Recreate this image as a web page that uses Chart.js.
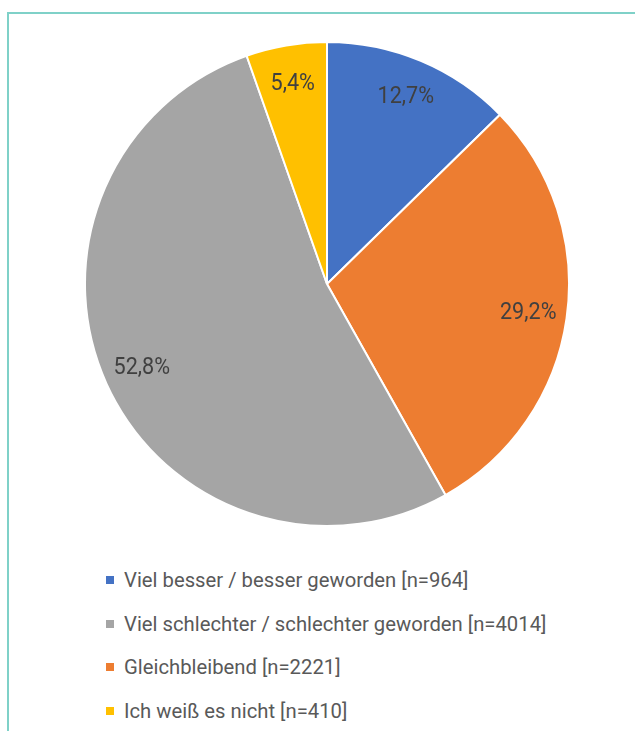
<!DOCTYPE html>
<html>
<head>
<meta charset="utf-8">
<script src="https://cdn.jsdelivr.net/npm/chart.js@4"></script>
<style>
  html, body { margin: 0; padding: 0; background: #fff; }
  body { width: 635px; height: 731px; position: relative; overflow: hidden;
         font-family: Roboto, "DejaVu Sans Condensed", sans-serif; }
  #frame { position: absolute; left: 7px; top: 12px; right: -5px; bottom: -5px;
           border-left: 2px solid #7fd1c8; border-top: 2px solid #7fd1c8; }
  #pieWrap { position: absolute; left: 83.5px; top: 41px; width: 486px; height: 486px; }
  #legend { position: absolute; left: 106px; top: 566px; margin: 0; padding: 0; list-style: none; }
  #legend li { height: 43.5px; line-height: 28px; font-size: 21px; color: #595959; white-space: nowrap; }
  #legend .box { display: inline-block; width: 8px; height: 8px; margin-right: 10px; vertical-align: 3px; }
  #legend .txt { display: inline-block; transform: scaleX(0.965); transform-origin: left center; }
</style>
</head>
<body>
<div id="frame"></div>
<div id="pieWrap"><canvas id="pieChart"></canvas></div>
<ul id="legend"></ul>
<script>
// slices, clockwise from 12 o'clock
const categories = [
  'Viel besser / besser geworden',
  'Gleichbleibend',
  'Viel schlechter / schlechter geworden',
  'Ich weiß es nicht'
];
const counts = [964, 2221, 4014, 410];
const colors = ['#4472c4', '#ed7d31', '#a5a5a5', '#ffc000'];
// legend lists the slices in another order
const legendOrder = [0, 2, 1, 3];

const total = counts.reduce((a, b) => a + b, 0);

function pct(v) {
  return (v / total * 100).toFixed(1).replace('.', ',') + '%';
}

// percent labels inside the slices, near the rim (font is narrowed a bit)
const sliceLabels = {
  id: 'sliceLabels',
  afterDatasetsDraw(chart) {
    const ctx = chart.ctx;
    const meta = chart.getDatasetMeta(0);
    const squeeze = 0.9;
    ctx.save();
    ctx.font = '24px Roboto, "DejaVu Sans Condensed", sans-serif';
    ctx.fillStyle = '#404040';
    ctx.textAlign = 'center';
    ctx.textBaseline = 'middle';
    meta.data.forEach((arc, i) => {
      const p = arc.getProps(['x', 'y', 'startAngle', 'endAngle', 'outerRadius']);
      const mid = (p.startAngle + p.endAngle) / 2;
      const r = p.outerRadius * 0.84;
      const x = p.x + Math.cos(mid) * r;
      const y = p.y + Math.sin(mid) * r;
      ctx.save();
      ctx.translate(x, y);
      ctx.scale(squeeze, 1);
      ctx.fillText(pct(counts[i]), 0, 0);
      ctx.restore();
    });
    ctx.restore();
  }
};

let chart;

function buildLegend() {
  const ul = document.getElementById('legend');
  ul.innerHTML = '';
  legendOrder.forEach(i => {
    const li = document.createElement('li');
    const box = document.createElement('span');
    box.className = 'box';
    box.style.background = colors[i];
    const txt = document.createElement('span');
    txt.className = 'txt';
    txt.textContent = categories[i] + ' [n=' + counts[i] + ']';
    li.appendChild(box);
    li.appendChild(txt);
    ul.appendChild(li);
  });
}

function initChart() {
  const ctx = document.getElementById('pieChart');
  chart = new Chart(ctx, {
    type: 'pie',
    data: {
      labels: categories,
      datasets: [{
        data: counts,
        backgroundColor: colors,
        borderColor: '#ffffff',
        borderWidth: 2
      }]
    },
    options: {
      responsive: true,
      maintainAspectRatio: false,
      animation: false,
      plugins: {
        legend: { display: false },
        tooltip: { enabled: false }
      }
    },
    plugins: [sliceLabels]
  });
}

initChart();
buildLegend();
</script>
</body>
</html>
